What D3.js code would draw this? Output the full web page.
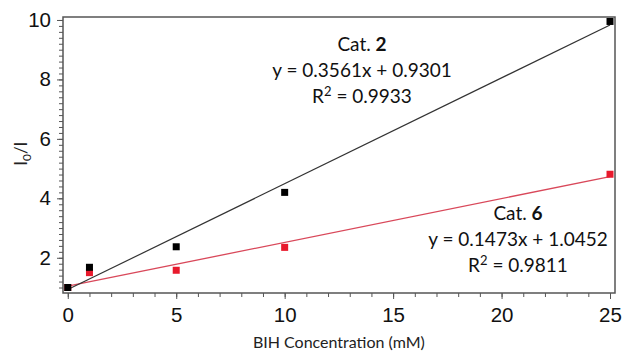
<!DOCTYPE html>
<html>
<head>
<meta charset="utf-8">
<script src="https://cdn.jsdelivr.net/npm/d3@7"></script>
<style>
  body { margin: 0; background: #fff; }
  svg { display: block; }
  .tick text { font-family: "Liberation Sans", Arial, sans-serif; }
  .note { font-family: Lato, "Open Sans", sans-serif; }
</style>
</head>
<body>
<svg width="622" height="354"></svg>
<script>
const width = 622;
const height = 354;

// BIH concentration (mM)
const conc = [0, 1, 5, 10, 25];
// I0/I readings
const cat2 = [1.0, 1.68, 2.37, 4.2, 9.95];
const cat6 = [1.0, 1.5, 1.58, 2.35, 4.81];
// linear fits [slope, intercept]
const fit2 = [0.3561, 0.9301];
const fit6 = [0.1473, 1.0452];

const xTicks = [0, 5, 10, 15, 20, 25];
const yTicks = [2, 4, 6, 8, 10];

const box = { left: 63, right: 615, top: 17, bottom: 293 };

const x = d3.scaleLinear().domain([-0.22, 25.23]).range([box.left, box.right]);
const y = d3.scaleLinear().domain([0.815, 10.1]).range([box.bottom, box.top]);

const svg = d3.select("svg");

// frame
svg.append("rect")
  .attr("x", box.left).attr("y", box.top)
  .attr("width", box.right - box.left).attr("height", box.bottom - box.top)
  .attr("fill", "none").attr("stroke", "#555").attr("stroke-width", 1.5);

// x axis
const xMinor = d3.range(0, 26, 1);
svg.append("g")
  .attr("transform", `translate(0,${box.bottom})`)
  .call(d3.axisBottom(x).tickValues(xMinor).tickSize(4).tickFormat(""))
  .call(g => g.select(".domain").remove())
  .call(g => g.selectAll("line").attr("stroke", "#555"));
svg.append("g")
  .attr("transform", `translate(0,${box.bottom})`)
  .call(d3.axisBottom(x).tickValues(xTicks).tickSize(6).tickPadding(8))
  .call(g => g.select(".domain").remove())
  .call(g => g.selectAll("line").attr("stroke", "#555"))
  .call(g => g.selectAll("text").attr("font-size", 20.5).attr("fill", "#111"));

// y axis
const yMinor = d3.range(1, 10.01, 0.2);
svg.append("g")
  .attr("transform", `translate(${box.left},0)`)
  .call(d3.axisLeft(y).tickValues(yMinor).tickSize(4).tickFormat(""))
  .call(g => g.select(".domain").remove())
  .call(g => g.selectAll("line").attr("stroke", "#555"));
svg.append("g")
  .attr("transform", `translate(${box.left},0)`)
  .call(d3.axisLeft(y).tickValues(yTicks).tickSize(6).tickPadding(6))
  .call(g => g.select(".domain").remove())
  .call(g => g.selectAll("line").attr("stroke", "#555"))
  .call(g => g.selectAll("text").attr("font-size", 20.5).attr("fill", "#111"));

// axis titles
svg.append("text")
  .attr("class", "note")
  .attr("x", x(12.5)).attr("y", 348)
  .attr("text-anchor", "middle")
  .attr("font-size", 16).attr("fill", "#222")
  .text("BIH Concentration (mM)");

const yl = svg.append("text")
  .attr("class", "note")
  .attr("transform", `translate(27,${y(5.5)}) rotate(-90)`)
  .attr("text-anchor", "middle")
  .attr("font-size", 17).attr("fill", "#222");
yl.append("tspan").text("I");
yl.append("tspan").attr("dy", 4).attr("font-size", 12).text("0");
yl.append("tspan").attr("dy", -4).text("/I");

// fit lines
const fitLine = (f) => [[0, f[1]], [25, f[0] * 25 + f[1]]];
const line = d3.line().x(d => x(d[0])).y(d => y(d[1]));

svg.append("path")
  .attr("d", line(fitLine(fit6)))
  .attr("stroke", "#d9485a").attr("stroke-width", 1.3).attr("fill", "none");
svg.append("path")
  .attr("d", line(fitLine(fit2)))
  .attr("stroke", "#333").attr("stroke-width", 1.2).attr("fill", "none");

// points
const sq = 7;
svg.append("g").selectAll("rect")
  .data(conc.map((c, i) => [c, cat6[i]]))
  .join("rect")
  .attr("x", d => x(d[0]) - sq / 2).attr("y", d => y(d[1]) - sq / 2)
  .attr("width", sq).attr("height", sq)
  .attr("fill", "#e8192c");
svg.append("g").selectAll("rect")
  .data(conc.map((c, i) => [c, cat2[i]]))
  .join("rect")
  .attr("x", d => x(d[0]) - sq / 2).attr("y", d => y(d[1]) - sq / 2)
  .attr("width", sq).attr("height", sq)
  .attr("fill", "#000");

// annotations
function note(cx, top, cat, f, r2) {
  const g = svg.append("g").attr("class", "note")
    .attr("text-anchor", "middle").attr("font-size", 19).attr("fill", "#111");
  const t1 = g.append("text").attr("x", cx).attr("y", top);
  t1.append("tspan").text("Cat. ");
  t1.append("tspan").attr("font-weight", "bold").text(cat);
  g.append("text").attr("x", cx).attr("y", top + 26)
    .text(`y = ${f[0].toFixed(4)}x + ${f[1].toFixed(4)}`);
  const t3 = g.append("text").attr("x", cx).attr("y", top + 52);
  t3.append("tspan").text("R");
  t3.append("tspan").attr("dy", -7).attr("font-size", 13).text("2");
  t3.append("tspan").attr("dy", 7).text(` = ${r2}`);
}
note(362, 51, "2", fit2, "0.9933");
note(518, 220, "6", fit6, "0.9811");
</script>
</body>
</html>
